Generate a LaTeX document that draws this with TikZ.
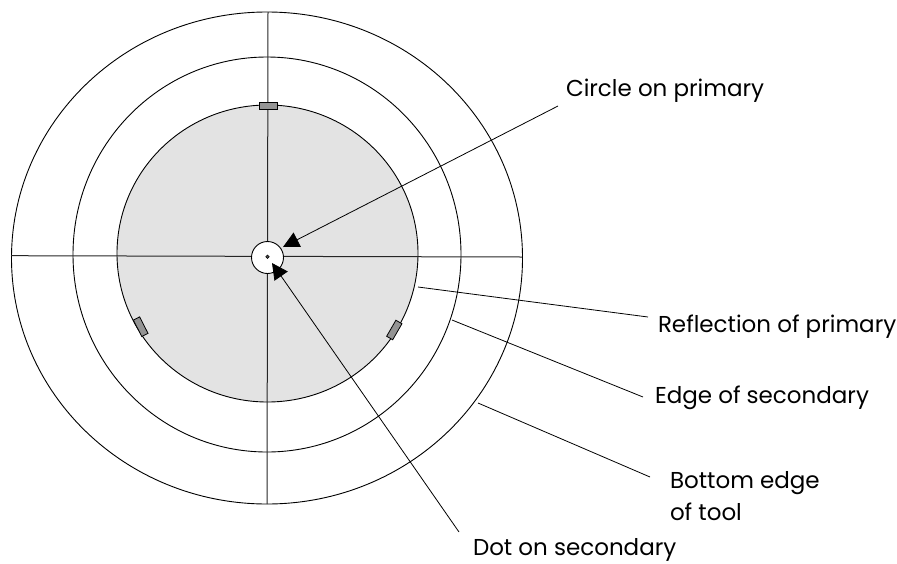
\documentclass[tikz,border=0pt]{standalone}
\usepackage{fontspec}
\setmainfont{Poppins}
\usetikzlibrary{arrows.meta}
\tikzset{
  ring/.style={draw=black,line width=0.9pt},
  axis/.style={draw=black!85,line width=1pt},
  tab/.style={draw=black,fill=black!42,line width=0.8pt,minimum width=18.5pt,minimum height=7pt,inner sep=0pt,outer sep=0pt,shape=rectangle},
  leader/.style={draw=black,line width=0.8pt},
  pointer/.style={leader,-{Triangle[length=16pt,width=16pt]},shorten >=0pt},
  lbl/.style={anchor=base west,inner sep=0pt,outer sep=0pt,text=black,font=\fontsize{23pt}{27pt}\selectfont},
}
\begin{document}
\begin{tikzpicture}[x=1pt,y=-1pt]
\useasboundingbox (0,0) rectangle (897,563);
% rings
\draw[ring] (267,258) ellipse [x radius=255.5,y radius=246];
\draw[ring] (267,254.5) ellipse [x radius=194,y radius=197.5];
\draw[ring,fill=black!11] (267.5,253.5) ellipse [x radius=150.5,y radius=148.5];
% axes
\coordinate (axT) at (268,12);
\coordinate (axB) at (267,504);
\coordinate (axL) at (11,255.7);
\coordinate (axR) at (522,257);
\draw[axis] (axT) -- (axB);
\draw[axis] (axL) -- (axR);
% tabs
\node[tab] (tabT) at (268.5,106) {};
\node[tab,rotate=-63] (tabL) at (140.7,326.7) {};
\node[tab,rotate=60] (tabR) at (394.3,330) {};
% centre
\node[draw=black,fill=white,circle,line width=0.9pt,minimum size=32pt,inner sep=0pt] (hub) at (267.5,257.5) {};
\node[draw=black,fill=black!70,circle,line width=0.6pt,minimum size=3.5pt,inner sep=0pt] (dot) at (267.5,256.8) {};
% labels
\node[lbl] (lC) at (566,96) {Circle on primary};
\node[lbl] (lR) at (658,332) {Reflection of primary};
\node[lbl] (lE) at (655,403) {Edge of secondary};
\node[lbl] (lB) at (670,488) {Bottom edge};
\node[lbl] (lT) at (670,520) {of tool};
\node[lbl] (lD) at (473,555.5) {Dot on secondary};
% leader ends
\coordinate (cS) at (558,106);
\coordinate (cE) at (283,247);
\coordinate (dS) at (459,532);
\coordinate (dE) at (272,263);
\coordinate (rS) at (648,317);
\coordinate (rE) at (418,287);
\coordinate (eS) at (643,397);
\coordinate (eE) at (452,320);
\coordinate (bS) at (650,477);
\coordinate (bE) at (478,403);
\draw[pointer] (cS) -- (cE);
\draw[pointer] (dS) -- (dE);
\draw[leader] (rS) -- (rE);
\draw[leader] (eS) -- (eE);
\draw[leader] (bS) -- (bE);
\end{tikzpicture}
\end{document}
